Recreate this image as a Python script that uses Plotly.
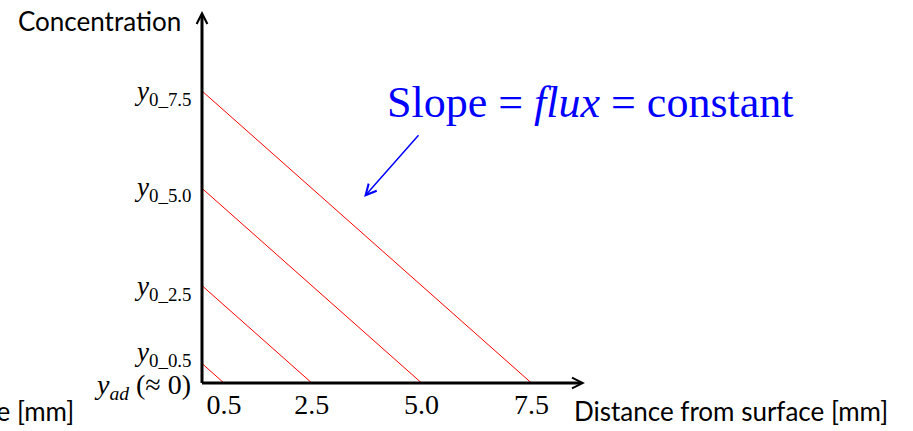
import plotly.graph_objects as go

# Lines: concentration at the surface equals the depth where it reaches zero
intercepts_mm = [0.5, 2.5, 5.0, 7.5]
x_tick_text = ["0.5", "2.5", "5.0", "7.5"]
y_tick_text = [
    "<i>y</i><sub>0_0.5</sub>",
    "<i>y</i><sub>0_2.5</sub>",
    "<i>y</i><sub>0_5.0</sub>",
    "<i>y</i><sub>0_7.5</sub>",
]
y_zero_text = "<i>y</i><sub><i>ad</i></sub> (≈ 0)"
x_title = "Distance from surface [mm]"
y_title = "Concentration"
slope_text = "Slope = <i>flux</i> = constant"

W, H = 913, 431
L, R, T, B = 202, 328, 11, 48
PW, PH = W - L - R, H - T - B
X_MAX, Y_MAX = 8.72, 9.555

SERIF = "Liberation Serif, Times New Roman, serif"
SANS = "Lato, Calibri, sans-serif"


def px_x(px):
    return (px - L) / PW


def px_y(py):
    return (H - B - py) / PH


fig = go.Figure()
for c in intercepts_mm:
    fig.add_trace(go.Scatter(x=[0, c], y=[c, 0], mode="lines",
                             line={"color": "#ff0000", "width": 1},
                             hoverinfo="skip", showlegend=False))

annotations = []
# axes with arrow heads
annotations.append(dict(x=X_MAX, y=0, ax=-0.035, ay=0, xref="x", yref="y", axref="x", ayref="y",
                        text="", showarrow=True, arrowhead=5, arrowsize=0.7, arrowwidth=3,
                        arrowcolor="black", standoff=0))
annotations.append(dict(x=0, y=Y_MAX, ax=0, ay=-0.04, xref="x", yref="y", axref="x", ayref="y",
                        text="", showarrow=True, arrowhead=5, arrowsize=0.7, arrowwidth=3,
                        arrowcolor="black", standoff=0))

# y labels (placed by hand in the original slide)
y_shifts = [10, -2, -1, -2]
for c, label, dy in zip(intercepts_mm, y_tick_text, y_shifts):
    annotations.append(dict(x=0, y=c, xref="paper", yref="y", xanchor="right", yanchor="middle",
                            xshift=-8, yshift=dy, text=label, showarrow=False,
                            font={"family": SERIF, "size": 27, "color": "black"}))
annotations.append(dict(x=0, y=0, xref="paper", yref="y", xanchor="right", yanchor="middle",
                        xshift=-9, yshift=-3, text=y_zero_text, showarrow=False,
                        font={"family": SERIF, "size": 28, "color": "black"}))

annotations.append(dict(x=px_x(183), y=px_y(21), xref="paper", yref="paper",
                        xanchor="right", yanchor="middle", text=y_title, showarrow=False,
                        font={"family": SANS, "size": 26, "color": "black"}))
annotations.append(dict(x=px_x(572), y=px_y(411), xref="paper", yref="paper",
                        xanchor="left", yanchor="middle", text=x_title, showarrow=False,
                        font={"family": SANS, "size": 26, "color": "black"}))
# cut-off copy of the axis title at the left edge of the slide
annotations.append(dict(x=px_x(76), y=px_y(411), xref="paper", yref="paper",
                        xanchor="right", yanchor="middle", text=x_title, showarrow=False,
                        font={"family": SANS, "size": 26, "color": "black"}))

annotations.append(dict(x=px_x(590), y=px_y(102), xref="paper", yref="paper",
                        xanchor="center", yanchor="middle", text=slope_text, showarrow=False,
                        font={"family": SERIF, "size": 44, "color": "#0000ff"}))
annotations.append(dict(x=3.69, y=4.78, ax=4.96, ay=6.40, xref="x", yref="y", axref="x", ayref="y",
                        text="", showarrow=True, arrowhead=5, arrowsize=1.4, arrowwidth=1.5,
                        arrowcolor="#0000ff", standoff=0))

fig.update_layout(
    width=W, height=H,
    margin={"l": L, "r": R, "t": T, "b": B, "pad": 0},
    paper_bgcolor="white", plot_bgcolor="white",
    showlegend=False,
    annotations=annotations,
)
fig.update_xaxes(range=[0, X_MAX], showgrid=False, zeroline=False, showline=False, ticks="",
                 tickmode="array", tickvals=intercepts_mm, ticktext=x_tick_text,
                 tickfont={"family": SERIF, "size": 28, "color": "black"}, ticklabelstandoff=2)
fig.update_yaxes(range=[0, Y_MAX], showgrid=False, zeroline=False, showline=False, ticks="",
                 showticklabels=False)

fig.write_html("out.html", config={"displayModeBar": False},
               post_script="document.body.style.margin='0';")
